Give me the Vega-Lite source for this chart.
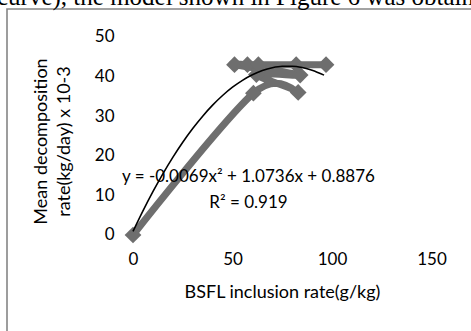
{
  "$schema": "https://vega.github.io/schema/vega-lite/v6.json",
  "autosize": "none",
  "padding": {"left": 7, "top": 9, "right": 0, "bottom": 0},
  "width": 466,
  "height": 324,
  "background": "white",
  "title": {
    "text": "curve), the model shown in Figure 6 was obtained",
    "anchor": "start",
    "frame": "group",
    "orient": "top",
    "offset": -1,
    "dx": -10,
    "font": "Liberation Serif",
    "fontSize": 25,
    "fontWeight": "normal",
    "color": "#000000"
  },
  "config": {
    "view": {"stroke": "#858585", "strokeWidth": 1.6},
    "font": "Lato"
  },
  "datasets": {
    "points": [
      {"rate": 0, "decomp": 0},
      {"rate": 60.5, "decomp": 35.8},
      {"rate": 83, "decomp": 36},
      {"rate": 62, "decomp": 40.5},
      {"rate": 84, "decomp": 40.4},
      {"rate": 51, "decomp": 43},
      {"rate": 57.5, "decomp": 43},
      {"rate": 63, "decomp": 43},
      {"rate": 82, "decomp": 43},
      {"rate": 97, "decomp": 43}
    ],
    "trend": [
      {"rate": 0, "decomp": 0.89},
      {"rate": 5, "decomp": 6.08},
      {"rate": 10, "decomp": 10.93},
      {"rate": 15, "decomp": 15.44},
      {"rate": 20, "decomp": 19.6},
      {"rate": 25, "decomp": 23.42},
      {"rate": 30, "decomp": 26.89},
      {"rate": 35, "decomp": 30.01},
      {"rate": 40, "decomp": 32.79},
      {"rate": 45, "decomp": 35.23},
      {"rate": 50, "decomp": 37.32},
      {"rate": 55, "decomp": 39.06},
      {"rate": 60, "decomp": 40.46},
      {"rate": 65, "decomp": 41.52},
      {"rate": 70, "decomp": 42.23},
      {"rate": 75, "decomp": 42.6},
      {"rate": 80, "decomp": 42.62},
      {"rate": 85, "decomp": 42.29},
      {"rate": 90, "decomp": 41.62},
      {"rate": 96, "decomp": 40.37}
    ]
  },
  "data": {"name": "points"},
  "encoding": {
    "x": {
      "field": "rate",
      "type": "quantitative",
      "scale": {"domain": [-63.32, 170.85], "zero": false, "nice": false},
      "axis": {
        "values": [0, 50, 100, 150],
        "offset": -98,
        "domain": false,
        "ticks": false,
        "tickSize": 0,
        "grid": false,
        "labelPadding": 16,
        "labelFontSize": 17,
        "labelColor": "#000000",
        "labelFont": "Lato",
        "title": "BSFL inclusion rate(g/kg)",
        "titleFont": "Lato",
        "titleFontSize": 18,
        "titleFontWeight": "normal",
        "titleColor": "#000000",
        "titleX": 275,
        "titleY": 62,
        "titleBaseline": "alphabetic"
      }
    },
    "y": {
      "field": "decomp",
      "type": "quantitative",
      "scale": {"domain": [-24.75, 57.07], "zero": false, "nice": false},
      "axis": {
        "values": [0, 10, 20, 30, 40, 50],
        "offset": -126,
        "domain": false,
        "ticks": false,
        "tickSize": 0,
        "grid": false,
        "labelPadding": 19,
        "labelFontSize": 17,
        "labelColor": "#000000",
        "labelFont": "Lato",
        "title": ["Mean decomposition", "rate(kg/day) x 10-3"],
        "titleFont": "Lato",
        "titleFontSize": 18,
        "titleFontWeight": "normal",
        "titleColor": "#000000",
        "titleLineHeight": 23,
        "titleX": -87,
        "titleY": 132,
        "titleAngle": 270,
        "titleAlign": "center",
        "titleBaseline": "alphabetic"
      }
    }
  },
  "layer": [
    {
      "data": {"values": [{"axis": "x"}]},
      "mark": {"type": "rule", "color": "#8a8a8a", "strokeWidth": 1.4},
      "encoding": {
        "x": {"datum": 0},
        "x2": {"datum": 150},
        "y": {"datum": 0}
      }
    },
    {
      "data": {"values": [{"axis": "y"}]},
      "mark": {"type": "rule", "color": "#8a8a8a", "strokeWidth": 1.4},
      "encoding": {
        "x": {"datum": 0},
        "y": {"datum": 0},
        "y2": {"datum": 50}
      }
    },
    {
      "mark": {"type": "line", "color": "#6e6e6e", "strokeWidth": 7, "interpolate": "cardinal", "strokeJoin": "round"},
      "encoding": {"order": {"value": null}}
    },
    {
      "mark": {"type": "point", "shape": "diamond", "filled": true, "color": "#6e6e6e", "size": 280, "opacity": 1}
    },
    {
      "data": {"name": "trend"},
      "mark": {"type": "line", "color": "#000000", "strokeWidth": 1.6, "interpolate": "monotone"}
    },
    {
      "transform": [{"filter": "datum.rate == 0"}],
      "mark": {"type": "text", "align": "center", "baseline": "alphabetic", "fontSize": 17, "font": "Lato", "color": "#000000", "lineHeight": 26},
      "encoding": {
        "x": {"datum": 58},
        "y": {"datum": 13.38},
        "text": {"value": ["y = -0.0069x² + 1.0736x + 0.8876", "R² = 0.919"]}
      }
    }
  ]
}
